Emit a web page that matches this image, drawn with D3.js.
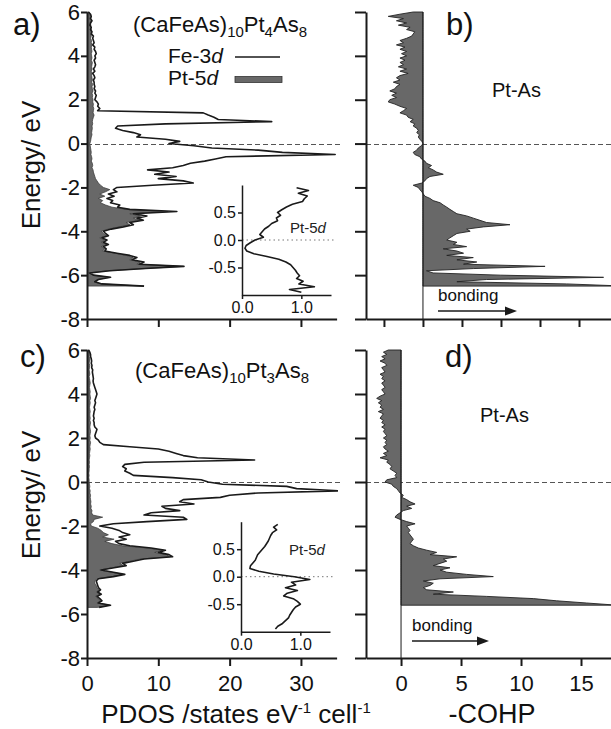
<!DOCTYPE html>
<html><head><meta charset="utf-8">
<script src="https://cdn.jsdelivr.net/npm/d3@7"></script>
<style>
body{margin:0;background:#fff;}
svg text{font-family:"Liberation Sans",Arial,Helvetica,sans-serif;}
</style>
</head><body>
<svg id="chart" width="611" height="729"></svg>
<script>
// ---------- DATA ----------
const energy = [
 6.0,5.9,5.8,5.7,5.6,5.5,5.4,5.3,5.2,5.1,
 5.0,4.9,4.8,4.7,4.6,4.5,4.4,4.3,4.2,4.1,
 4.0,3.9,3.8,3.7,3.6,3.5,3.4,3.3,3.2,3.1,
 3.0,2.9,2.8,2.7,2.6,2.5,2.4,2.3,2.2,2.1,
 2.0,1.9,1.8,1.7,1.6,1.5,1.4,1.3,1.2,1.1,
 1.0,0.9,0.8,0.7,0.6,0.5,0.4,0.3,0.2,0.1,
 0.0,-0.1,-0.2,-0.3,-0.4,-0.5,-0.6,-0.7,-0.8,-0.9,
 -1.0,-1.1,-1.2,-1.3,-1.4,-1.5,-1.6,-1.7,-1.8,-1.9,
 -2.0,-2.1,-2.2,-2.3,-2.4,-2.5,-2.6,-2.7,-2.8,-2.9,
 -3.0,-3.1,-3.2,-3.3,-3.4,-3.5,-3.6,-3.7,-3.8,-3.9,
 -4.0,-4.1,-4.2,-4.3,-4.4,-4.5,-4.6,-4.7,-4.8,-4.9,
 -5.0,-5.1,-5.2,-5.3,-5.4,-5.5,-5.6,-5.7,-5.8,-5.9,
 -6.0,-6.1,-6.2,-6.3,-6.4,-6.5];

// (CaFeAs)10Pt4As8  PDOS
const feA = [
 0.2,0.5,0.6,0.5,0.7,0.5,0.4,0.6,0.5,0.7,
 0.6,0.9,0.8,0.9,1.0,0.8,1.1,1.0,1.2,1.3,
 1.1,1.2,1.0,1.1,1.2,1.1,0.9,1.1,0.8,1.0,
 1.1,0.9,1.0,1.0,1.1,1.0,1.2,1.1,1.3,1.2,
 1.1,1.4,1.6,1.5,1.8,1.5,16.3,17.0,17.8,18.4,
 25.9,11.0,4.3,4.0,5.0,6.5,7.5,7.0,11.0,13.0,
 11.5,15.0,17.5,24.0,27.4,34.8,19.5,18.0,16.5,14.5,
 13.5,12.0,8.5,11.5,9.5,12.5,10.0,13.5,14.9,9.2,
 4.2,3.7,4.2,3.0,3.8,2.8,3.6,3.3,4.6,4.3,
 6.0,12.6,6.5,8.4,7.0,7.9,6.0,6.5,5.1,3.4,
 2.3,2.6,3.0,2.1,2.8,2.3,3.0,2.3,2.7,2.5,
 4.2,6.0,7.0,6.3,8.0,7.3,13.6,8.2,3.2,0.4,
 0.9,3.3,1.6,1.1,2.1,8.0];
const ptA = [
 0.3,0.4,0.5,0.4,0.5,0.45,0.55,0.5,0.6,0.5,
 0.55,0.6,0.5,0.65,0.6,0.7,0.6,0.65,0.7,0.6,
 0.65,0.7,0.6,0.75,0.7,0.65,0.7,0.6,0.7,0.65,
 0.7,0.75,0.65,0.8,0.7,0.75,0.85,0.7,0.8,0.75,
 0.85,0.8,0.9,0.85,0.95,0.9,0.85,1.0,0.9,0.8,
 0.75,0.8,0.7,0.75,0.7,0.65,0.7,0.6,0.55,0.5,
 0.4,0.45,0.5,0.55,0.6,0.55,0.65,0.7,0.6,0.75,
 0.8,0.7,0.85,0.9,1.0,1.1,1.2,1.4,1.6,1.9,
 2.3,3.2,2.6,1.8,2.5,1.6,2.2,1.9,2.6,3.5,
 5.5,11.4,6.0,7.5,6.5,7.5,5.5,6.0,4.5,3.0,
 2.0,2.3,2.8,1.8,2.5,2.0,2.8,2.0,2.5,2.2,
 4.0,5.5,6.5,6.0,7.5,7.0,13.5,8.0,3.0,0.2,
 0.8,3.2,1.5,1.0,2.0,8.0];

// (CaFeAs)10Pt3As8  PDOS
const feC = [
 0.2,0.4,0.5,0.5,0.6,0.65,0.6,0.7,0.65,0.8,
 0.75,0.8,0.85,0.9,0.85,0.9,1.0,1.1,1.2,1.3,
 1.4,1.3,1.2,1.1,1.2,1.1,1.0,1.1,1.0,0.95,
 0.9,1.0,0.9,1.0,1.0,1.1,1.4,1.3,1.2,1.1,
 1.2,1.6,1.8,2.3,6.0,10.0,11.5,12.5,13.5,15.5,
 23.5,8.0,5.3,5.0,5.5,5.3,6.0,6.5,12.0,16.0,
 17.0,19.0,28.0,29.4,35.5,24.0,20.0,18.7,13.5,13.0,
 15.0,10.5,11.0,13.0,9.0,8.0,13.5,14.0,8.4,3.7,
 1.8,3.5,4.5,5.0,6.0,4.5,5.5,4.0,4.5,6.0,
 9.0,11.0,10.0,11.5,12.0,8.0,6.5,5.0,5.5,3.8,
 2.0,3.7,5.3,3.7,1.6,1.3,1.4,1.5,1.6,1.9,
 1.5,2.0,1.4,1.8,2.1,1.6,3.3,1.7];
const ptC = [
 0.3,0.3,0.35,0.3,0.4,0.35,0.3,0.4,0.35,0.3,
 0.35,0.4,0.3,0.35,0.4,0.45,0.4,0.35,0.4,0.45,
 0.4,0.45,0.5,0.4,0.45,0.4,0.35,0.4,0.45,0.4,
 0.4,0.45,0.4,0.5,0.45,0.4,0.45,0.5,0.45,0.4,
 0.45,0.4,0.5,0.45,0.4,0.45,0.4,0.35,0.4,0.35,
 0.3,0.35,0.3,0.35,0.3,0.3,0.25,0.3,0.25,0.3,
 0.3,0.35,0.4,0.35,0.45,0.4,0.5,0.45,0.5,0.55,
 0.5,0.6,0.55,0.7,0.65,0.8,2.2,1.0,0.9,0.5,
 0.6,1.5,2.0,2.3,3.0,2.2,3.8,2.5,3.5,5.0,
 8.4,10.7,9.5,11.2,11.6,7.5,6.0,4.6,5.1,3.5,
 1.8,3.5,5.1,3.5,1.4,1.1,1.1,1.3,1.4,1.7,
 1.3,1.8,1.2,1.6,1.9,1.4,3.2,1.5];

// -COHP Pt-As
const cohpB = [
 -0.25,-0.59,-0.89,-0.50,-0.68,-0.42,-0.63,-0.33,-0.42,-0.21,
 -0.25,-0.29,-0.42,-0.59,-0.50,-0.68,-0.46,-0.59,-0.42,-0.55,
 -0.42,-0.59,-0.46,-0.59,-0.50,-0.63,-0.42,-0.59,-0.38,-0.59,
 -0.68,-0.59,-0.76,-0.59,-0.68,-0.72,-0.85,-0.68,-0.80,-0.68,
 -0.85,-0.89,-0.72,-0.59,-0.42,-0.50,-0.59,-0.42,-0.38,-0.25,
 -0.33,-0.21,-0.25,-0.16,-0.12,-0.16,-0.09,-0.12,-0.08,-0.03,
 0.0,-0.04,-0.12,-0.16,-0.25,-0.21,-0.08,-0.04,0.05,0.09,
 0.22,0.14,0.26,0.35,0.52,0.18,0.09,0.05,-0.03,-0.25,
 -0.12,-0.08,-0.03,0.01,0.05,0.18,0.26,0.44,0.52,0.61,
 0.69,0.78,0.87,1.12,1.29,1.46,1.63,2.23,1.55,1.12,
 1.21,0.87,0.78,0.69,0.61,0.87,0.78,1.12,0.52,0.87,
 1.04,0.61,1.29,0.87,1.38,1.04,3.13,1.29,0.09,0.26,
 1.98,4.63,1.63,0.87,3.68,5.2];
const cohpD = [
 -1.06,-1.47,-1.19,-1.61,-1.33,-1.75,-1.33,-1.19,-1.61,-1.47,
 -1.33,-1.75,-1.47,-1.61,-1.33,-1.61,-1.47,-1.33,-1.61,-1.47,
 -1.33,-1.75,-2.03,-1.61,-1.89,-1.61,-1.75,-1.47,-1.89,-1.47,
 -1.61,-1.75,-1.47,-1.61,-1.33,-1.61,-1.33,-1.47,-1.33,-1.19,
 -1.47,-1.19,-1.33,-1.19,-1.47,-1.33,-1.06,-1.47,-1.19,-1.75,
 -1.06,-1.19,-0.92,-0.78,-0.92,-0.64,-0.36,-0.5,-0.36,-1.19,
 -1.33,-0.78,-0.64,-0.36,-0.22,-0.08,0.19,0.06,0.47,0.75,
 1.17,0.47,0.89,0.19,-0.08,-0.36,-0.5,-0.08,0.47,1.17,
 0.47,0.61,0.75,0.61,0.75,0.89,1.03,0.89,0.75,1.03,
 1.44,2.14,2.97,2.42,4.64,3.53,3.81,3.25,2.69,4.08,
 3.25,3.81,5.47,7.69,3.25,1.86,2.69,2.42,1.86,2.14,
 4.36,2.69,7.14,11.03,12.97,15.47,18.0];

// Insets: Pt-5d near the Fermi level
const insetEnergy = [0.95,0.9,0.85,0.8,0.75,0.7,0.65,0.6,0.55,0.5,0.45,0.4,0.35,0.3,0.25,0.2,0.15,0.1,0.05,0,
 -0.05,-0.1,-0.15,-0.2,-0.25,-0.3,-0.35,-0.4,-0.45,-0.5,-0.55,-0.6,-0.65,-0.7,-0.75,-0.8,-0.85,-0.9,-0.95];
const insetA = [0.92,1.12,0.95,1.10,1.05,1.02,0.85,0.75,0.67,0.60,0.65,0.58,0.60,0.50,0.45,0.38,0.34,0.30,0.36,0.22,
 0.14,0.07,0.05,0.08,0.20,0.42,0.62,0.74,0.82,0.86,0.90,0.93,0.97,0.92,1.03,0.96,1.22,0.80,1.00];
const insetC = [0.62,0.55,0.60,0.53,0.50,0.48,0.46,0.43,0.40,0.36,0.32,0.28,0.26,0.24,0.20,0.16,0.15,0.30,0.55,0.90,
 1.16,0.85,0.92,0.75,0.95,0.78,0.72,0.88,0.95,1.00,0.92,0.88,0.85,0.82,0.80,0.75,0.70,0.62,0.58];

const energyTicks = [-8,-6,-4,-2,0,2,4,6];
const pdosTicks = [0,10,20,30];
const cohpTicksB = [-1,0,1,2,3,4];
const cohpTicksD = [0,5,10,15];
const insetYTicks = [-0.5,0,0.5];
const insetXTicks = [0,1];

// ---------- DRAWING ----------
const svg = d3.select("#chart");
const GRAY = "#686868";
const INK = "#1a1a1a";
const defs = svg.append("defs");

const yA = d3.scaleLinear().domain([-8,6]).range([319,12]);
const yC = d3.scaleLinear().domain([-8,6]).range([658,350]);
const xP = d3.scaleLinear().domain([0,35]).range([87,336.6]);
const xB = d3.scaleLinear().domain([-1.46,4.82]).range([366,611]);
const xD = d3.scaleLinear().domain([-2.92,17.5]).range([366,611]);

function clipRect(id,x0,x1,y0,y1){
  defs.append("clipPath").attr("id",id).append("rect")
    .attr("x",x0).attr("y",y0).attr("width",x1-x0).attr("height",y1-y0);
}
function dashed(x0,x1,yy){
  svg.append("line").attr("x1",x0).attr("x2",x1).attr("y1",yy).attr("y2",yy)
    .attr("stroke","#555").attr("stroke-width",1.2).attr("stroke-dasharray","5,3");
}
function styleAxis(g,fs){
  g.attr("font-family",'"Liberation Sans",Arial,sans-serif').attr("font-size",fs);
  g.selectAll(".domain").attr("stroke",INK).attr("stroke-width",2);
  g.selectAll(".tick line").attr("stroke",INK).attr("stroke-width",2);
  g.selectAll(".tick text").attr("fill","#111");
}

function pdosPanel(y, fe, pt, id){
  clipRect(id, 87, 338, y.range()[1]-1, y.range()[0]);
  dashed(87, 340, Math.round(y(0))+0.5);
  const g = svg.append("g").attr("clip-path",`url(#${id})`);
  const area = d3.area().y((d,i)=>y(energy[i])).x0(xP(0)).x1(d=>xP(d));
  g.append("path").datum(pt).attr("d",area).attr("fill",GRAY)
    .attr("stroke","#333").attr("stroke-width",0.7);
  const line = d3.line().y((d,i)=>y(energy[i])).x(d=>xP(d));
  g.append("path").datum(fe).attr("d",line).attr("fill","none")
    .attr("stroke",INK).attr("stroke-width",1.6).attr("stroke-linejoin","round");
}
function cohpPanel(y, x, vals, id){
  clipRect(id, 366, 611, y.range()[1]-1, y.range()[0]);
  dashed(366, 611, Math.round(y(0))+0.5);
  const g = svg.append("g").attr("clip-path",`url(#${id})`);
  const area = d3.area().y((d,i)=>y(energy[i])).x0(x(0)).x1(d=>x(d));
  g.append("path").datum(vals).attr("d",area).attr("fill",GRAY)
    .attr("stroke","#222").attr("stroke-width",0.9);
  g.append("line").attr("x1",x(0)).attr("x2",x(0)).attr("y1",y(6)).attr("y2",y(-8))
    .attr("stroke",INK).attr("stroke-width",1);
}

pdosPanel(yA, feA, ptA, "clipA");
pdosPanel(yC, feC, ptC, "clipC");
cohpPanel(yA, xB, cohpB, "clipB");
cohpPanel(yC, xD, cohpD, "clipD");

// axes left panels
const fmtInt = d => String(d);
[[yA,false],[yC,true]].forEach(([y,labels])=>{
  const gy = svg.append("g").attr("transform","translate(87,0)")
    .call(d3.axisLeft(y).tickValues(energyTicks).tickFormat(fmtInt).tickSize(6).tickPadding(1).tickSizeOuter(0));
  styleAxis(gy,22);
  const gx = svg.append("g").attr("transform",`translate(0,${y.range()[0]})`)
    .call(d3.axisBottom(xP).tickValues(pdosTicks).tickFormat(labels?fmtInt:()=> "").tickSize(8).tickPadding(9).tickSizeOuter(0));
  styleAxis(gx,22);
});
// axes right panels
[[yA,xB,cohpTicksB,false],[yC,xD,cohpTicksD,true]].forEach(([y,x,ticks,labels])=>{
  const gy = svg.append("g").attr("transform","translate(366,0)")
    .call(d3.axisLeft(y).tickValues(energyTicks).tickFormat(()=> "").tickSize(11).tickSizeOuter(0));
  styleAxis(gy,22);
  const gx = svg.append("g").attr("transform",`translate(0,${y.range()[0]})`)
    .call(d3.axisBottom(x).tickValues(ticks).tickFormat(labels?fmtInt:()=> "").tickSize(8).tickPadding(9).tickSizeOuter(0));
  styleAxis(gx,22);
});

// insets
function inset(x0, yTop, vals, labY){
  const x = d3.scaleLinear().domain([0,1.5]).range([x0, x0+89]);
  const y = d3.scaleLinear().domain([-1,1]).range([yTop+110, yTop]);
  svg.append("line").attr("x1",x(0)).attr("x2",x0+92).attr("y1",y(0)).attr("y2",y(0))
    .attr("stroke","#777").attr("stroke-width",1).attr("stroke-dasharray","1.5,3");
  const line = d3.line().y((d,i)=>y(insetEnergy[i])).x(d=>x(d));
  svg.append("path").datum(vals).attr("d",line).attr("fill","none")
    .attr("stroke",INK).attr("stroke-width",1.6).attr("stroke-linejoin","round");
  const gy = svg.append("g").attr("transform",`translate(${x0},0)`)
    .call(d3.axisLeft(y).tickValues(insetYTicks).tickFormat(d=>d.toFixed(1)).tickSize(4).tickPadding(2).tickSizeOuter(0));
  styleAxis(gy,16);
  gy.selectAll(".domain,.tick line").attr("stroke-width",1.5);
  const gx = svg.append("g").attr("transform",`translate(0,${yTop+110})`)
    .call(d3.axisBottom(x).tickValues(insetXTicks).tickFormat(d=>d.toFixed(1)).tickSize(4).tickPadding(3).tickSizeOuter(0));
  styleAxis(gx,16);
  gx.selectAll(".domain,.tick line").attr("stroke-width",1.5);
  const t = svg.append("text").attr("x",x0+48).attr("y",labY).attr("font-size",15).attr("fill","#222");
  t.append("tspan").text("Pt-5");
  t.append("tspan").attr("font-style","italic").text("d");
}
inset(242, 185, insetA, 233);
inset(241, 521.7, insetC, 555);

// texts
function txt(x,y,s,fs,anchor){
  return svg.append("text").attr("x",x).attr("y",y).attr("font-size",fs)
    .attr("text-anchor",anchor||"start").attr("fill","#111").text(s);
}
txt(13,35,"a)",31); txt(446,35,"b)",31);
txt(20,367,"c)",31); txt(445,367,"d)",31);
txt(492,97,"Pt-As",20); txt(480,422,"Pt-As",20);

function formula(x,y,n){
  const t = svg.append("text").attr("x",x).attr("y",y).attr("font-size",22).attr("fill","#111");
  t.append("tspan").text("(CaFeAs)");
  t.append("tspan").attr("font-size",15).attr("dy",5).text("10");
  t.append("tspan").attr("dy",-5).text("Pt");
  t.append("tspan").attr("font-size",15).attr("dy",5).text(n);
  t.append("tspan").attr("dy",-5).text("As");
  t.append("tspan").attr("font-size",15).attr("dy",5).text("8");
}
formula(133,32,"4");
formula(135,378,"3");

// legend
function legendText(x,y,a){
  const t = svg.append("text").attr("x",x).attr("y",y).attr("font-size",21).attr("fill","#111");
  t.append("tspan").text(a);
  t.append("tspan").attr("font-style","italic").text("d");
}
legendText(168,63,"Fe-3");
legendText(168,85,"Pt-5");
svg.append("line").attr("x1",235).attr("x2",280).attr("y1",57).attr("y2",57).attr("stroke",INK).attr("stroke-width",1.6);
svg.append("rect").attr("x",235).attr("y",76.5).attr("width",47).attr("height",6)
  .attr("fill",GRAY).attr("stroke","#333").attr("stroke-width",0.8);

// bonding arrows
function bonding(x, yText, yArrow, len){
  txt(x, yText, "bonding", 17);
  svg.append("line").attr("x1",x).attr("x2",x+len-10).attr("y1",yArrow).attr("y2",yArrow)
    .attr("stroke",INK).attr("stroke-width",1.6);
  svg.append("path").attr("d",`M${x+len-12},${yArrow-4.5}L${x+len},${yArrow}L${x+len-12},${yArrow+4.5}Z`).attr("fill",INK);
}
bonding(438, 301, 311, 79);
bonding(412, 631, 641, 77);

// axis titles
svg.append("text").attr("transform","translate(40,165) rotate(-90)").attr("text-anchor","middle")
  .attr("font-size",26).attr("fill","#111").text("Energy/ eV");
svg.append("text").attr("transform","translate(40,495) rotate(-90)").attr("text-anchor","middle")
  .attr("font-size",26).attr("fill","#111").text("Energy/ eV");
const pl = svg.append("text").attr("x",236).attr("y",723).attr("text-anchor","middle").attr("font-size",26).attr("fill","#111");
pl.append("tspan").text("PDOS /states eV");
pl.append("tspan").attr("font-size",15).attr("dy",-10).text("-1");
pl.append("tspan").attr("dy",10).text(" cell");
pl.append("tspan").attr("font-size",15).attr("dy",-10).text("-1");
txt(492,723,"-COHP",27,"middle");
</script>
</body></html>
